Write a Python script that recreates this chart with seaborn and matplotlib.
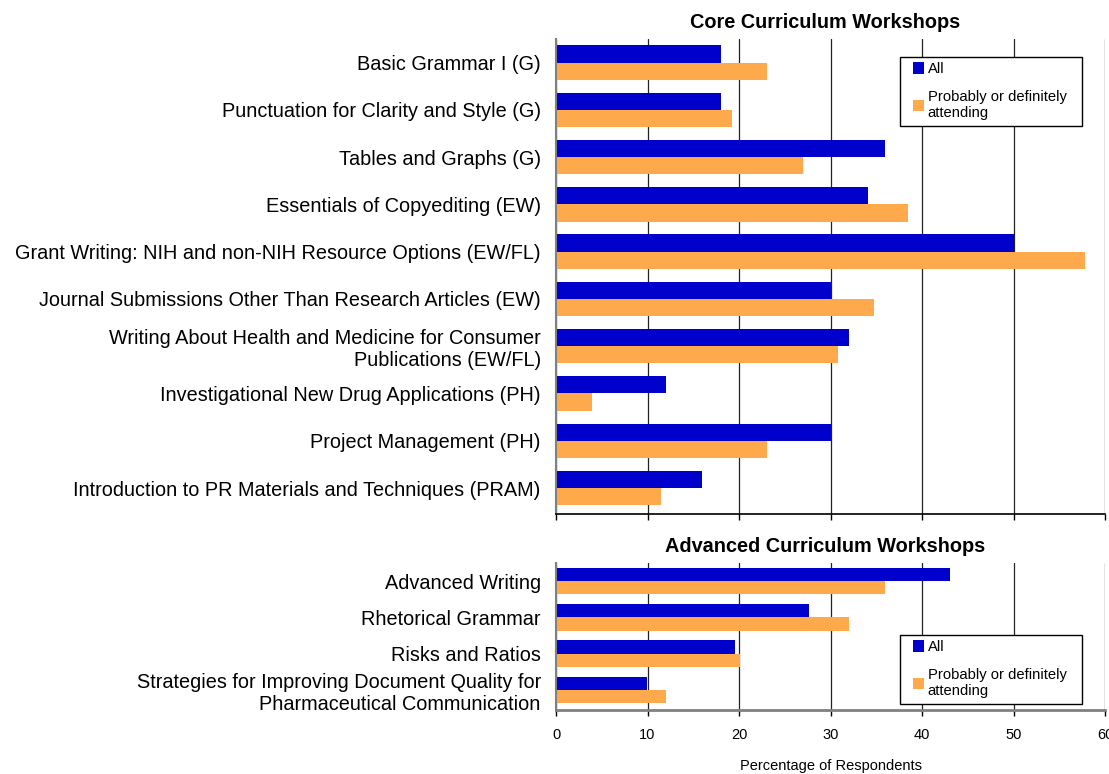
import pandas as pd
import seaborn as sns
import matplotlib.pyplot as plt
import matplotlib.patches as mpatches
from matplotlib.legend_handler import HandlerPatch

# Survey data (percentage of respondents)
core_workshops = [
    'Basic Grammar I (G)',
    'Punctuation for Clarity and Style (G)',
    'Tables and Graphs (G)',
    'Essentials of Copyediting (EW)',
    'Grant Writing: NIH and non-NIH Resource Options (EW/FL)',
    'Journal Submissions Other Than Research Articles (EW)',
    'Writing About Health and Medicine for Consumer\nPublications (EW/FL)',
    'Investigational New Drug Applications (PH)',
    'Project Management (PH)',
    'Introduction to PR Materials and Techniques (PRAM)',
]
core_all = [18.0, 18.0, 36.0, 34.1, 50.0, 30.0, 32.0, 12.0, 30.0, 16.0]
core_attending = [23.1, 19.2, 27.0, 38.5, 57.8, 34.7, 30.8, 3.9, 23.1, 11.5]

adv_workshops = [
    'Advanced Writing',
    'Rhetorical Grammar',
    'Risks and Ratios',
    'Strategies for Improving Document Quality for\nPharmaceutical Communication',
]
adv_all = [43.1, 27.6, 19.6, 9.9]
adv_attending = [36.0, 32.0, 20.1, 12.0]

series_names = ['All', 'Probably or definitely\nattending']
x_ticks = [0, 10, 20, 30, 40, 50, 60]

blue = '#0000CC'
orange = '#FFA94D'

sns.set_theme(style='white', rc={'text.color': 'black', 'axes.labelcolor': 'black',
                                 'xtick.color': 'black', 'ytick.color': 'black'})
plt.rcParams['font.family'] = ['Liberation Sans', 'DejaVu Sans']


def square_at_right(legend, orig_handle, xdescent, ydescent, width, height, fontsize):
    # small square pushed to the right end of the handle box
    return mpatches.Rectangle((width - height - xdescent, -ydescent), height, height)


def long_table(names, all_vals, att_vals):
    return pd.DataFrame({
        'workshop': names + names,
        'pct': all_vals + att_vals,
        'group': [series_names[0]] * len(names) + [series_names[1]] * len(names),
    })


def draw_panel(ax, names, all_vals, att_vals, title, legend_y):
    df = long_table(names, all_vals, att_vals)
    sns.barplot(
        data=df, ax=ax, y='workshop', x='pct', hue='group',
        order=names, hue_order=series_names, orient='h',
        palette=[blue, orange], saturation=1, width=0.73, gap=0,
        linewidth=0, errorbar=None
    )
    ax.set_xlim(0, 60)
    ax.set_xticks(x_ticks)
    ax.set_ylim(len(names) - 0.45, -0.5)
    ax.xaxis.grid(True, color='#222222', linewidth=0.9)
    ax.set_axisbelow(True)
    ax.set_ylabel('')
    ax.set_xlabel('')
    ax.set_title(title, fontsize=14.3, fontweight='bold', pad=8, color='black', x=0.491)
    ax.tick_params(axis='y', length=0, pad=11, labelsize=14.3, labelcolor='black')
    ax.tick_params(axis='x', direction='out', length=4, width=1, color='black',
                   bottom=True, labelsize=10.5, labelcolor='black', pad=9)
    for s in ['top', 'right']:
        ax.spines[s].set_visible(False)
    ax.spines['left'].set_color('#808080')
    ax.spines['left'].set_linewidth(1.5)
    sns.move_legend(
        ax, 'upper left', bbox_to_anchor=(0.626, legend_y, 0.3315, 0),
        mode='expand', title=None,
        fontsize=10.6, frameon=True, fancybox=False, framealpha=1,
        edgecolor='black', handlelength=1.3, handleheight=0.8,
        handletextpad=0.25, labelspacing=0.95, borderpad=0.35,
        borderaxespad=0,
        handler_map={mpatches.Rectangle: HandlerPatch(patch_func=square_at_right)}
    )
    ax.get_legend().get_frame().set_linewidth(1.0)


fig = plt.figure(figsize=(11.09, 7.74), dpi=100)
ax_core = fig.add_axes([0.5014, 0.3359, 0.4950, 0.6137])
ax_adv = fig.add_axes([0.5014, 0.0827, 0.4950, 0.1899])

draw_panel(ax_core, core_workshops, core_all, core_attending,
           'Core Curriculum Workshops', 0.962)
ax_core.tick_params(axis='x', labelbottom=False)
ax_core.spines['bottom'].set_color('black')
ax_core.spines['bottom'].set_linewidth(1.2)

draw_panel(ax_adv, adv_workshops, adv_all, adv_attending,
           'Advanced Curriculum Workshops', 0.51)
ax_adv.spines['bottom'].set_color('#808080')
ax_adv.spines['bottom'].set_linewidth(2)
ax_adv.set_xlabel('Percentage of Respondents', fontsize=10.5, labelpad=12)

plt.savefig('out.png', dpi=100)
